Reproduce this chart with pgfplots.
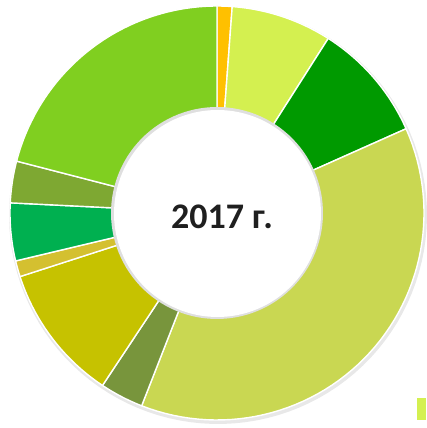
\documentclass[border=0pt]{standalone}
\usepackage{pgfplots}
\pgfplotsset{compat=1.18}
\usepackage{pgfplotstable}
\usepackage{fontspec}
\setmainfont{Carlito}
\definecolor{c1}{HTML}{FFC000}
\definecolor{c2}{HTML}{D4F050}
\definecolor{c3}{HTML}{009A00}
\definecolor{c4}{HTML}{C9D752}
\definecolor{c5}{HTML}{78953C}
\definecolor{c6}{HTML}{C6C200}
\definecolor{c7}{HTML}{D4C030}
\definecolor{c8}{HTML}{00B050}
\definecolor{c9}{HTML}{7EA832}
\definecolor{c10}{HTML}{80CF20}
\pgfplotstableread{
value color
1.17 c1
7.86 c2
9.30 c3
37.60 c4
3.40 c5
10.70 c6
1.25 c7
4.50 c8
3.25 c9
20.97 c10
}\piedata
\begin{document}
\begin{tikzpicture}
\path[use as bounding box] (0,0) rectangle (426pt,428pt);
\begin{axis}[
  at={(0,0)}, anchor=south west,
  x=1pt, y=1pt,
  xmin=-217, xmax=209, ymin=-215, ymax=213,
  hide axis, clip=false,
]
% soft outer shadow
\addplot[fill=gray!18, draw=none, domain=0:360, samples=120, variable=\t]
  ({209*sin(\t)+1},{209*cos(\t)-2}) -- cycle;
\def\cum{0}
\pgfplotstablegetrowsof{\piedata}
\pgfmathtruncatemacro\N{\pgfplotsretval-1}
\pgfplotsforeachungrouped \i in {0,...,\N}{%
  \pgfplotstablegetelem{\i}{value}\of\piedata \let\v\pgfplotsretval
  \pgfplotstablegetelem{\i}{color}\of\piedata \let\c\pgfplotsretval
  \pgfmathsetmacro\a{\cum*3.6}%
  \pgfmathsetmacro\b{(\cum+\v)*3.6}%
  \edef\temp{\noexpand\addplot[fill=\c, draw=white, line width=1.4pt, line join=round,
    domain=\a:\b, samples=60, variable=\noexpand\t]
    ({207*sin(\noexpand\t)},{207*cos(\noexpand\t)}) -- (0,0) -- cycle;}%
  \temp
  \pgfmathsetmacro\cum{\cum+\v}%
}
% inner hole
\addplot[fill=gray!25, draw=none, domain=0:360, samples=120, variable=\t]
  ({106*sin(\t)},{106*cos(\t)}) -- cycle;
\addplot[fill=white, draw=none, domain=0:360, samples=120, variable=\t]
  ({103.5*sin(\t)+0.5},{103.5*cos(\t)-0.5}) -- cycle;
\node[font=\bfseries\fontsize{36}{40}\selectfont, text=black!88] at (axis cs:5,-4) {2017 г.};
% clipped legend marker
\fill[c2] (axis cs:200,-185) rectangle (axis cs:209,-207);
\end{axis}
\end{tikzpicture}
\end{document}
